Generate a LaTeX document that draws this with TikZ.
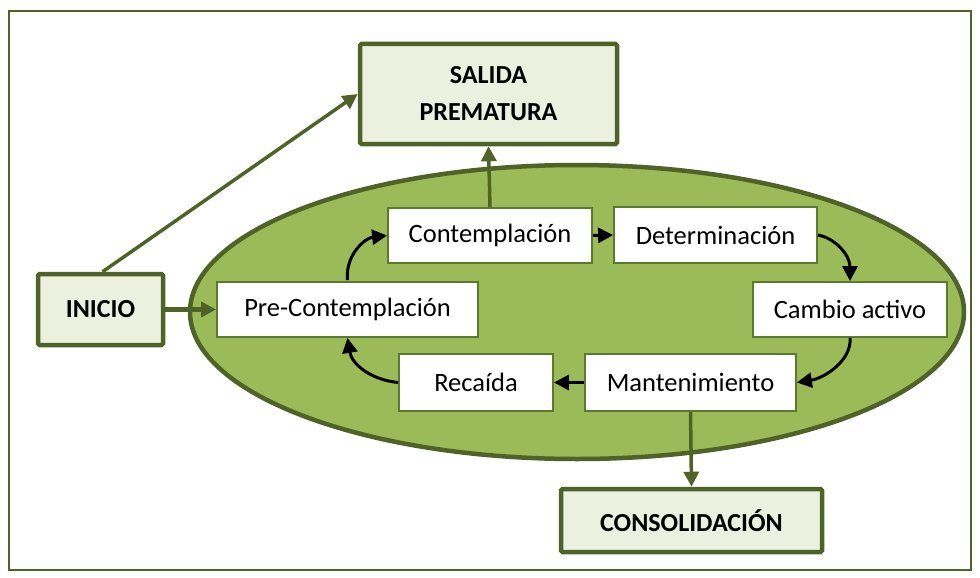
\documentclass[tikz,border=0pt]{standalone}
\usepackage{fontspec}
\setmainfont{Carlito}
\usetikzlibrary{arrows.meta}
\definecolor{olivedark}{HTML}{4F6228}
\definecolor{olivefill}{HTML}{9BBB59}
\definecolor{olivelight}{HTML}{EBF1DE}
\definecolor{oliveline}{HTML}{5A7A2E}
\begin{document}
\begin{tikzpicture}[x=1pt,y=-1pt,
  outerbox/.style={draw=olivedark,line width=4.5pt,fill=olivelight,rounded corners=1.5pt,
    font=\fontsize{26}{31}\selectfont\bfseries,align=center,inner sep=0pt},
  stagebox/.style={draw=oliveline,line width=1.8pt,fill=white,
    font=\fontsize{26.5}{31}\selectfont,inner sep=0pt},
  greenarrow/.style={draw=olivedark,line width=3.5pt,-{Triangle[length=15pt,width=15pt]}},
  blackarrow/.style={draw=black,line width=3pt,-{Triangle[length=15pt,width=15pt]}}]
\useasboundingbox (0,0) rectangle (980,578);
\draw[olivedark,line width=2.5pt] (9,11) rectangle (971,570);
\draw[olivedark,line width=4.5pt,fill=olivefill] (577,312) ellipse [x radius=387,y radius=147];
% outer boxes
\node[outerbox,minimum width=257pt,minimum height=100pt] (sal) at (488.5,94) {SALIDA\\[6pt]PREMATURA};
\node[outerbox,minimum width=125pt,minimum height=71pt] (ini) at (100.5,309.5) {INICIO};
\node[outerbox,minimum width=261pt,minimum height=63pt] (con) at (691.5,520.5) {CONSOLIDACIÓN};
% stage boxes
\node[stagebox,minimum width=261pt,minimum height=55pt] (pre) at (347.5,309.5) {Pre-Contemplación};
\node[stagebox,minimum width=204pt,minimum height=55pt] (cont) at (490,235.5) {Contemplación};
\node[stagebox,minimum width=203pt,minimum height=56pt] (det) at (715.5,235) {Determinación};
\node[stagebox,minimum width=194pt,minimum height=55pt] (cam) at (850,309.5) {Cambio activo};
\node[stagebox,minimum width=211pt,minimum height=57pt] (man) at (690.5,382.5) {Mantenimiento};
\node[stagebox,minimum width=154pt,minimum height=57pt] (rec) at (476,382.5) {Recaída};
% green arrows
\draw[greenarrow] (ini.north) ++(2,0) -- (sal.west);
\draw[greenarrow,line width=5.5pt] (ini.east) -- (pre.west);
\draw[greenarrow] (cont.north) -- (sal.south);
\draw[greenarrow] (man.south) -- (con.north);
% black cycle arrows
\draw[blackarrow] (pre.north) ++(0,-1) .. controls (345,255) and (365,238) .. (cont.west);
\draw[blackarrow] (cont.east) -- (det.west);
\draw[blackarrow] (det.east) .. controls (835,238) and (850,255) .. (cam.north);
\draw[blackarrow] (cam.south) .. controls (852,360) and (825,378) .. (man.east);
\draw[blackarrow] (man.west) -- (rec.west -| rec.east);
\draw[blackarrow] (rec.west) .. controls (372,380) and (352,365) .. (pre.south);
\end{tikzpicture}
\end{document}
